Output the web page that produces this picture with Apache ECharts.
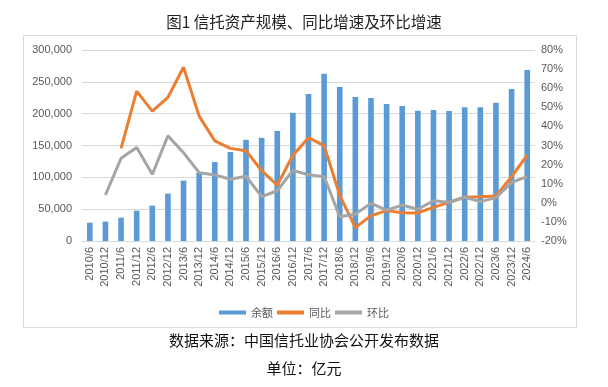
<!DOCTYPE html>
<html><head><meta charset="utf-8">
<script src="https://cdn.jsdelivr.net/npm/echarts@6/dist/echarts.min.js"></script>
<style>html,body{margin:0;padding:0;background:#fff}#c{width:608px;height:387px}</style>
</head><body><div id="c"></div>
<script>
const categories = ['2010/6','2010/12','2011/6','2011/12','2012/6','2012/12','2013/6','2013/12','2014/6','2014/12','2015/6','2015/12','2016/6','2016/12','2017/6','2017/12','2018/6','2018/12','2019/6','2019/12','2020/6','2020/12','2021/6','2021/12','2022/6','2022/12','2023/6','2023/12','2024/6'];
const balance = [28800,30400,36600,47600,55500,74300,94800,107300,124000,139800,159000,162000,173000,201600,231000,262800,242000,226000,224600,215000,212000,204700,205700,204000,210000,210000,217000,238700,268600];
const yoy = [null,null,28.5,58.5,48.0,55.2,71.0,45.4,32.4,28.5,27.3,16.8,9.2,24.9,34.1,29.9,3.9,-13.0,-6.7,-4.1,-5.2,-5.3,-2.4,0.3,2.9,3.2,3.6,13.7,24.9];
const qoq = [null,4.1,23.3,29.0,14.9,35.1,26.2,15.8,14.6,12.3,13.9,3.2,6.3,17.0,14.7,13.7,-7.3,-5.9,-0.3,-3.8,-1.2,-3.4,1.1,0.3,2.9,0.6,2.7,10.7,13.7];
const leftTicks = {min:0, max:300000, interval:50000};
const rightTicks = {min:-20, max:80, interval:10};

const chart = echarts.init(document.getElementById('c'), null, {renderer:'canvas'});
const txt = '#595959';
chart.setOption({
  animation:false,
  textStyle:{fontFamily:'"Noto Sans CJK SC", sans-serif'},
  graphic:[
    {type:'rect', shape:{x:23.5,y:35.5,width:553,height:292}, style:{fill:'none',stroke:'#d9d9d9',lineWidth:1}, z:-1},
    {type:'text', left:'center', top:14, style:{text:'图1 信托资产规模、同比增速及环比增速', fontSize:15.5, fill:'#222', fontFamily:'"Noto Sans CJK SC", sans-serif'}},
    {type:'text', left:'center', top:333, style:{text:'数据来源：中国信托业协会公开发布数据', fontSize:15, fill:'#111', fontFamily:'"Noto Sans CJK SC", sans-serif'}},
    {type:'text', left:'center', top:361, style:{text:'单位：亿元', fontSize:15, fill:'#111', fontFamily:'"Noto Sans CJK SC", sans-serif'}}
  ],
  legend:{
    top:302, left:'center', itemWidth:27, itemHeight:4, itemGap:4,
    textStyle:{fontSize:11, color:txt},
    data:[{name:'余额', icon:'rect'},{name:'同比', icon:'rect'},{name:'环比', icon:'rect'}]
  },
  grid:{left:82, right:73, top:50, bottom:146},
  xAxis:{
    type:'category', data:categories,
    axisLine:{lineStyle:{color:'#d9d9d9'}}, axisTick:{show:false},
    axisLabel:{rotate:90, interval:0, fontSize:11, color:txt, margin:6, fontFamily:'"Liberation Sans", Arial, sans-serif'}
  },
  yAxis:[
    {type:'value', min:leftTicks.min, max:leftTicks.max, interval:leftTicks.interval,
     axisLabel:{fontSize:11, color:txt, fontFamily:'"Liberation Sans", Arial, sans-serif', margin:10,
       formatter:v=>v.toLocaleString('en-US')},
     splitLine:{lineStyle:{color:'#d9d9d9'}}, axisLine:{show:false}, axisTick:{show:false}},
    {type:'value', min:rightTicks.min, max:rightTicks.max, interval:rightTicks.interval,
     axisLabel:{fontSize:11, color:txt, fontFamily:'"Liberation Sans", Arial, sans-serif', margin:6, formatter:'{value}%'},
     splitLine:{show:false}, axisLine:{show:false}, axisTick:{show:false}}
  ],
  series:[
    {name:'余额', type:'bar', data:balance, barWidth:'36%', itemStyle:{color:'#5B9BD5'}},
    {name:'同比', type:'line', yAxisIndex:1, data:yoy, symbol:'none', lineStyle:{width:3, color:'#ED7D31'}, itemStyle:{color:'#ED7D31'}},
    {name:'环比', type:'line', yAxisIndex:1, data:qoq, symbol:'none', lineStyle:{width:3, color:'#A5A5A5'}, itemStyle:{color:'#A5A5A5'}}
  ]
});
</script></body></html>
